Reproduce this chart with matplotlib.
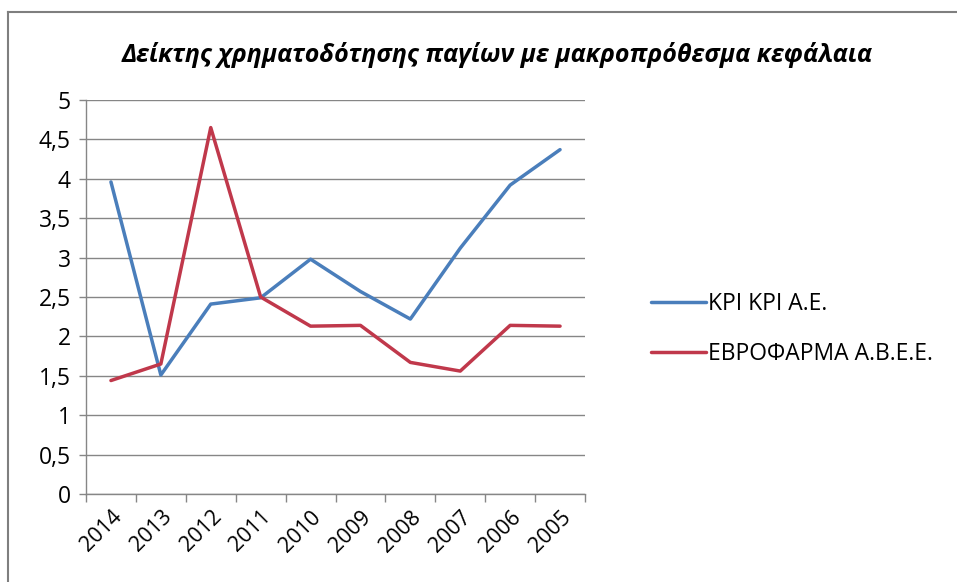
import matplotlib
matplotlib.use("Agg")
import matplotlib.pyplot as plt
from matplotlib.lines import Line2D
import numpy as np

years = ["2014", "2013", "2012", "2011", "2010", "2009", "2008", "2007", "2006", "2005"]
kri_kri = [3.96, 1.51, 2.41, 2.49, 2.98, 2.57, 2.22, 3.12, 3.92, 4.37]
evrofarma = [1.44, 1.65, 4.65, 2.50, 2.13, 2.14, 1.67, 1.56, 2.14, 2.13]
yticks = [0, 0.5, 1, 1.5, 2, 2.5, 3, 3.5, 4, 4.5, 5]
ytick_labels = ["0", "0,5", "1", "1,5", "2", "2,5", "3", "3,5", "4", "4,5", "5"]
title = "Δείκτης χρηματοδότησης παγίων με μακροπρόθεσμα κεφάλαια"
names = ["ΚΡΙ ΚΡΙ Α.Ε.", "ΕΒΡΟΦΑΡΜΑ Α.Β.Ε.Ε."]

plt.rcParams['font.family'] = ['Open Sans', 'DejaVu Sans']

fig = plt.figure(figsize=(9.57, 5.82), dpi=100)
W, H = 957, 582
ax = fig.add_axes([86 / W, 1 - 494 / H, (585 - 86) / W, (494 - 100) / H])

x = np.arange(len(years))
l1, = ax.plot(x, kri_kri, color="#4A7EBB", lw=2.5, solid_capstyle="round")
l2, = ax.plot(x, evrofarma, color="#C0384B", lw=2.5, solid_capstyle="round")

ax.set_xlim(-0.5, len(years) - 0.5)
ax.set_ylim(0, 5)
ax.set_yticks(yticks)
ax.set_yticklabels(ytick_labels, fontsize=16.5)
ax.set_xticks(x)
ax.set_xticklabels(years, fontsize=15.5, rotation=45, ha="right", rotation_mode="anchor")
ax.tick_params(axis="x", length=0, pad=9)
ax.set_xticks(np.arange(-0.5, len(years)), minor=True)
ax.tick_params(axis="x", which="minor", length=6, color="#868686", width=1)
ax.tick_params(axis="y", length=5, color="#868686", width=1, pad=6)
ax.grid(axis="y", color="#868686", lw=1)
ax.set_axisbelow(True)
for s in ["top", "right"]:
    ax.spines[s].set_visible(False)
for s in ["left", "bottom"]:
    ax.spines[s].set_color("#868686")
    ax.spines[s].set_linewidth(1)

fig.text(497 / W, 1 - 55 / H, title, ha="center", va="center",
         fontsize=18, fontweight="bold", style="italic")

fig.legend([l1, l2], names, loc="center left", bbox_to_anchor=(630 / W, 1 - 329 / H),
           frameon=False, fontsize=16.5, handlelength=2.4, handletextpad=0.1,
           labelspacing=1.1)

fig.add_artist(Line2D([8 / W, 8 / W], [0, 1 - 12 / H], color="#7F7F7F", lw=1.5,
                      transform=fig.transFigure))
fig.add_artist(Line2D([8 / W, 1], [1 - 12 / H, 1 - 12 / H], color="#7F7F7F", lw=1.5,
                      transform=fig.transFigure))

fig.savefig("out.png", dpi=100)
